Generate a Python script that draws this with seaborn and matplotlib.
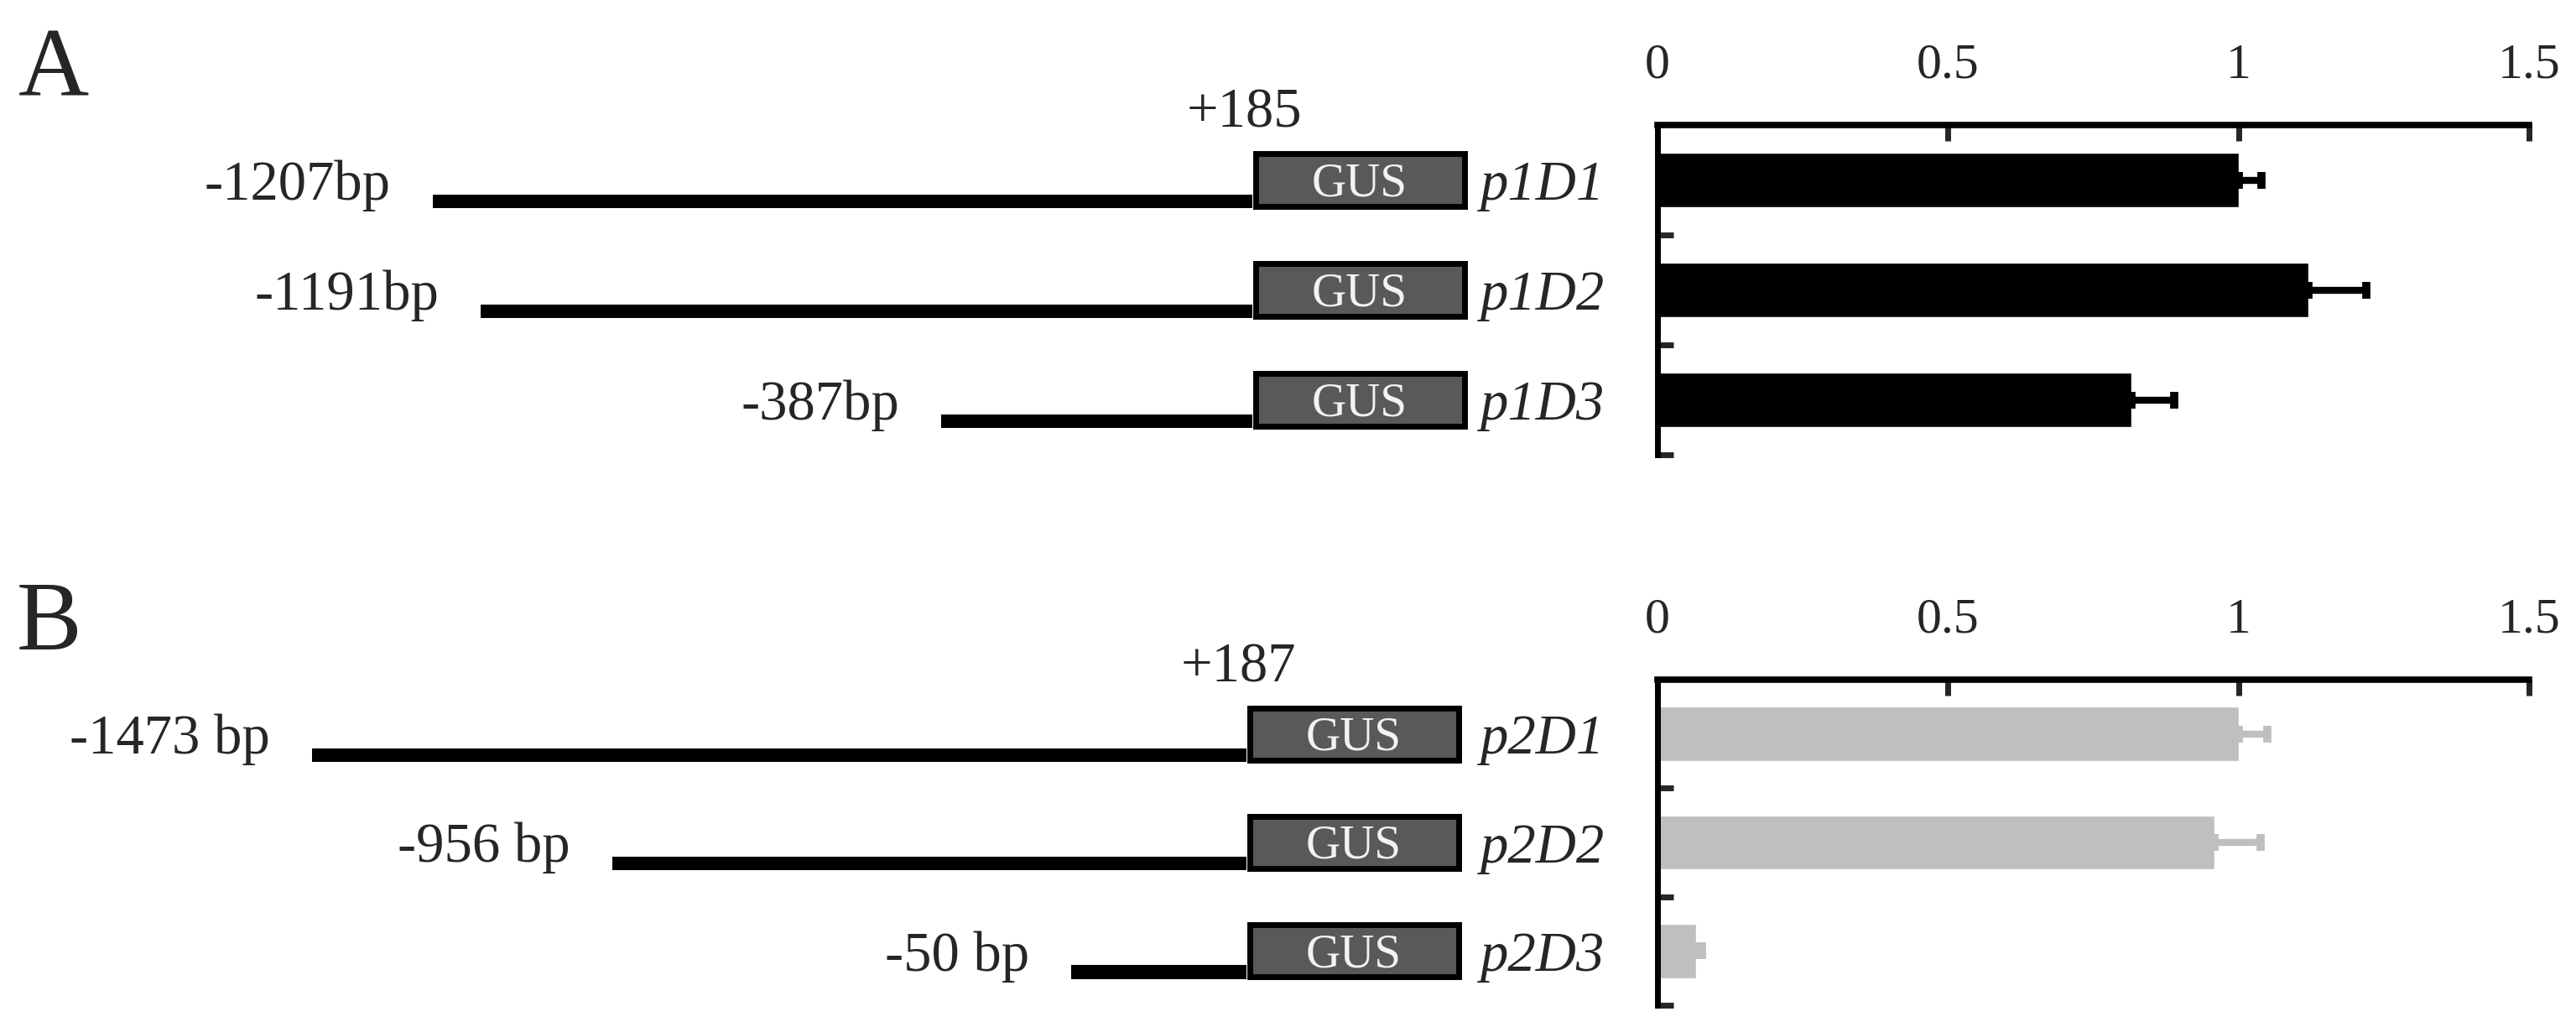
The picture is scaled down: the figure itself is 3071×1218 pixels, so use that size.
import numpy as np
import pandas as pd
import seaborn as sns
import matplotlib.pyplot as plt
from matplotlib.ticker import FixedLocator

# --- data ---
ticks = [0, 0.5, 1, 1.5]
tick_labels = ["0", "0.5", "1", "1.5"]

a_constructs = ["p1D1", "p1D2", "p1D3"]
a_activity = [1.00, 1.12, 0.815]
a_err = [0.04, 0.10, 0.075]
a_promoters = ["-1207bp", "-1191bp", "-387bp"]
a_drawn_len = [977, 920, 371]   # drawn length of promoter line (schematic, not to scale)
a_tss = "+185"

b_constructs = ["p2D1", "p2D2", "p2D3"]
b_activity = [1.00, 0.958, 0.066]
b_err = [0.05, 0.08, 0.010]
b_promoters = ["-1473 bp", "-956 bp", "-50 bp"]
b_drawn_len = [1114, 756, 209]
b_tss = "+187"

sns.set_style("white")
plt.rcParams["font.family"] = ["Liberation Serif", "DejaVu Serif"]

W, H = 3071, 1218
fig = plt.figure(figsize=(W / 100, H / 100), dpi=100)


def px_box(left, top, right, bottom):
    return [left / W, 1 - bottom / H, (right - left) / W, (bottom - top) / H]


def draw_panel(letter, constructs, activity, err, promoters, drawn_len, tss,
               bar_color, top, bottom, gus_x, letter_xy):
    # --- bar chart ---
    ax = fig.add_axes(px_box(1976, top, 3015, bottom))
    df = pd.DataFrame({"construct": constructs, "activity": activity})
    sns.barplot(data=df, x="activity", y="construct", color=bar_color,
                width=0.5, saturation=1, errorbar=None, ax=ax)
    ypos = np.arange(len(constructs))
    ax.errorbar(activity, ypos, xerr=[np.zeros(len(err)), err], fmt="none",
                ecolor=bar_color, elinewidth=6, capsize=7.5, capthick=7)
    ax.set_xlim(0, 1.5)
    ax.set_ylim(len(constructs) - 0.5, -0.5)
    ax.set_xlabel("")
    ax.set_ylabel("")
    ax.xaxis.tick_top()
    ax.set_xticks(ticks)
    ax.set_xticklabels(tick_labels)
    ax.tick_params(axis="x", direction="in", length=14, width=5, pad=31,
                   labelsize=43, top=True, bottom=False)
    ax.yaxis.set_minor_locator(FixedLocator([0.5, 1.5, 2.5]))
    ax.tick_params(axis="y", which="minor", direction="in", length=14, width=5, left=True)
    ax.tick_params(axis="y", which="major", length=0, pad=45, labelsize=48)
    for t in ax.get_yticklabels():
        t.set_fontstyle("italic")
    for s in ["right", "bottom"]:
        ax.spines[s].set_visible(False)
    ax.spines["top"].set_linewidth(5.5)
    ax.spines["left"].set_linewidth(5)
    ax.spines["top"].set_color("black")
    ax.spines["left"].set_color("black")

    # --- promoter::GUS schematic ---
    sx = fig.add_axes(px_box(0, top, 1770, bottom))
    sx.set_xlim(-gus_x, 1770 - gus_x)
    sx.set_ylim(len(constructs) - 0.5, -0.5)
    sx.axis("off")
    sx.barh(ypos + 0.195, drawn_len, left=-np.array(drawn_len), height=0.125,
            color="black", linewidth=0)
    sx.barh(ypos, 249, left=3.5, height=0.48, color="#595959",
            edgecolor="black", linewidth=5)
    for i, (lab, ln) in enumerate(zip(promoters, drawn_len)):
        sx.text(-ln - 50, i + 0.18, lab, ha="right", va="baseline", fontsize=48)
        sx.text(128, i + 0.145, "GUS", ha="center", va="baseline",
                fontsize=41, color="#f2f2f2")
    sx.text(-10, -0.48, tss, ha="center", va="baseline", fontsize=48)

    fig.text(letter_xy[0] / W, 1 - letter_xy[1] / H, letter, fontsize=84,
             ha="left", va="baseline")


draw_panel("A", a_constructs, a_activity, a_err, a_promoters, a_drawn_len, a_tss,
           "black", 149, 542, 1493, (22, 115))
draw_panel("B", b_constructs, b_activity, b_err, b_promoters, b_drawn_len, b_tss,
           "#bfbfbf", 810, 1198, 1486, (20, 774))

fig.savefig("out.png", dpi=100)
